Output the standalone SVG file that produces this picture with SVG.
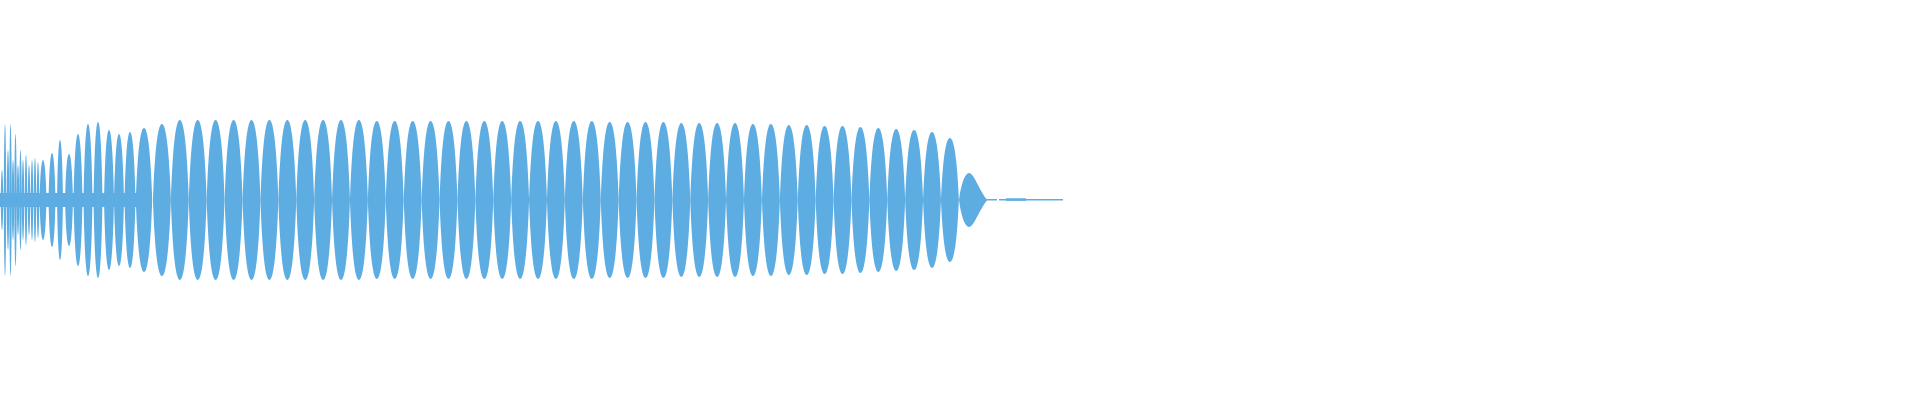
<svg xmlns="http://www.w3.org/2000/svg" width="1920" height="400" viewBox="0 0 1920 400">
<style>.w{fill:#5dade2}</style>
<defs><path id="L" d="M-1 0C-0.82 -0.6 -0.5 -1 0 -1C0.5 -1 0.82 -0.6 1 0C0.82 0.6 0.5 1 0 1C-0.5 1 -0.82 0.6 -1 0Z"/></defs>
<rect width="1920" height="400" fill="#fff"/>
<g id="wave" class="w">
<rect x="0" y="193" width="138" height="14"/>
<use href="#L" transform="translate(2,200) scale(1.3,30)"/>
<use href="#L" transform="translate(5,200) scale(1.3,76)"/>
<use href="#L" transform="translate(8,200) scale(1.3,50)"/>
<use href="#L" transform="translate(10.5,200) scale(1.3,76)"/>
<use href="#L" transform="translate(13,200) scale(1.3,40)"/>
<use href="#L" transform="translate(15.5,200) scale(1.3,66)"/>
<use href="#L" transform="translate(18,200) scale(1.3,35)"/>
<use href="#L" transform="translate(20.5,200) scale(1.3,50)"/>
<use href="#L" transform="translate(23,200) scale(1.3,40)"/>
<use href="#L" transform="translate(26,200) scale(1.3,45)"/>
<use href="#L" transform="translate(29,200) scale(1.3,35)"/>
<use href="#L" transform="translate(32,200) scale(1.3,40)"/>
<use href="#L" transform="translate(35,200) scale(1.3,42)"/>
<use href="#L" transform="translate(38,200) scale(1.3,38)"/>
<use href="#L" transform="translate(43,200) scale(3.5,40)"/>
<use href="#L" transform="translate(52,200) scale(3.5,47)"/>
<use href="#L" transform="translate(60,200) scale(3,60)"/>
<use href="#L" transform="translate(69,200) scale(4,46)"/>
<use href="#L" transform="translate(78,200) scale(4.5,66)"/>
<use href="#L" transform="translate(88,200) scale(4.5,76)"/>
<use href="#L" transform="translate(98,200) scale(4.5,78)"/>
<use href="#L" transform="translate(109,200) scale(5,70)"/>
<use href="#L" transform="translate(119,200) scale(5,66)"/>
<use href="#L" transform="translate(130,200) scale(5.5,68)"/>
<use href="#L" transform="translate(144,200) scale(8.2,72)"/>
<use href="#L" transform="translate(161.9,200) scale(8.96,76)"/>
<use href="#L" transform="translate(179.8,200) scale(8.96,80)"/>
<use href="#L" transform="translate(197.7,200) scale(8.96,80)"/>
<use href="#L" transform="translate(215.6,200) scale(8.96,80)"/>
<use href="#L" transform="translate(233.6,200) scale(8.96,80)"/>
<use href="#L" transform="translate(251.5,200) scale(8.96,80)"/>
<use href="#L" transform="translate(269.4,200) scale(8.96,80)"/>
<use href="#L" transform="translate(287.3,200) scale(8.96,80)"/>
<use href="#L" transform="translate(305.2,200) scale(8.96,80)"/>
<use href="#L" transform="translate(323.1,200) scale(8.96,80)"/>
<use href="#L" transform="translate(341,200) scale(8.96,80)"/>
<use href="#L" transform="translate(358.9,200) scale(8.96,80)"/>
<use href="#L" transform="translate(376.8,200) scale(8.96,79)"/>
<use href="#L" transform="translate(394.7,200) scale(8.96,79)"/>
<use href="#L" transform="translate(412.7,200) scale(8.96,79)"/>
<use href="#L" transform="translate(430.6,200) scale(8.96,79)"/>
<use href="#L" transform="translate(448.5,200) scale(8.96,79)"/>
<use href="#L" transform="translate(466.4,200) scale(8.96,79)"/>
<use href="#L" transform="translate(484.3,200) scale(8.96,79)"/>
<use href="#L" transform="translate(502.2,200) scale(8.96,79)"/>
<use href="#L" transform="translate(520.1,200) scale(8.96,79)"/>
<use href="#L" transform="translate(538,200) scale(8.96,79)"/>
<use href="#L" transform="translate(555.9,200) scale(8.96,79)"/>
<use href="#L" transform="translate(573.8,200) scale(8.96,79)"/>
<use href="#L" transform="translate(591.8,200) scale(8.96,79)"/>
<use href="#L" transform="translate(609.7,200) scale(8.96,78)"/>
<use href="#L" transform="translate(627.6,200) scale(8.96,78)"/>
<use href="#L" transform="translate(645.5,200) scale(8.96,78)"/>
<use href="#L" transform="translate(663.4,200) scale(8.96,78)"/>
<use href="#L" transform="translate(681.3,200) scale(8.96,77)"/>
<use href="#L" transform="translate(699.2,200) scale(8.96,77)"/>
<use href="#L" transform="translate(717.1,200) scale(8.96,77)"/>
<use href="#L" transform="translate(735,200) scale(8.96,77)"/>
<use href="#L" transform="translate(752.9,200) scale(8.96,76)"/>
<use href="#L" transform="translate(770.9,200) scale(8.96,76)"/>
<use href="#L" transform="translate(788.8,200) scale(8.96,75)"/>
<use href="#L" transform="translate(806.7,200) scale(8.96,75)"/>
<use href="#L" transform="translate(824.6,200) scale(8.96,74)"/>
<use href="#L" transform="translate(842.5,200) scale(8.96,74)"/>
<use href="#L" transform="translate(860.4,200) scale(8.96,73)"/>
<use href="#L" transform="translate(878.3,200) scale(8.96,72)"/>
<use href="#L" transform="translate(896.2,200) scale(8.96,71)"/>
<use href="#L" transform="translate(914.1,200) scale(8.96,70)"/>
<use href="#L" transform="translate(932,200) scale(8.96,68)"/>
<use href="#L" transform="translate(949.9,200) scale(8.96,62)"/>
<path d="M959 200C961 184 965 173 969 173C974 173 979 190 987 199.5L987 200.5C979 210 974 227 969 227C965 227 961 216 959 200Z"/>
<rect x="987" y="199" width="10" height="1.5"/>
<rect x="999" y="199" width="64" height="1.5"/>
<rect x="1006" y="198.3" width="20" height="2.5"/>
</g>
</svg>
